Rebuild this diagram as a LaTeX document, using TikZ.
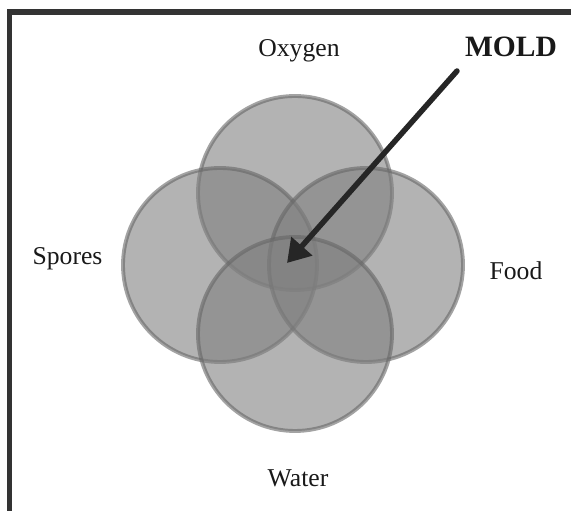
\documentclass[tikz,border=0pt]{standalone}
\usepackage{fontspec}
\setmainfont{Liberation Serif}
\usetikzlibrary{arrows.meta}

\tikzset{
  factor/.style={fill=gray, fill opacity=0.6, draw=black!60, draw opacity=0.6, line width=2.2pt},
  labeltext/.style={font=\fontsize{14.6}{17}\selectfont, anchor=base, text=black!90},
  moldarrow/.style={-{Triangle[length=0.45cm, width=0.54cm]}, line width=0.11cm, black!85, line cap=round}
}

\begin{document}
\begin{tikzpicture}
  \useasboundingbox (0,0) rectangle (11.42,10.22);

  % 绘制边框
  \draw[line width=0.12cm, black!80] (0.19,0) -- (0.19,9.98) -- (11.42,9.98);

  % 绘制四个圆
  \foreach \x/\y in {5.90/6.36, 4.40/4.92, 7.32/4.92, 5.90/3.54} {
    \draw[factor] (\x,\y) circle (1.94);
  }

  % 标签
  \node[labeltext] (oxygen) at (5.98,9.08) {Oxygen};
  \node[labeltext] (spores) at (1.35,4.92) {Spores};
  \node[labeltext] (food) at (10.32,4.62) {Food};
  \node[labeltext] (water) at (5.96,0.48) {Water};
  \node[labeltext, font=\fontsize{16.8}{19}\selectfont\bfseries] (mold) at (10.22,9.08) {MOLD};

  % 箭头指向交集
  \coordinate (moldtail) at (9.14,8.80);
  \coordinate (core) at (5.74,4.96);
  \draw[moldarrow] (moldtail) -- (core);
\end{tikzpicture}
\end{document}
